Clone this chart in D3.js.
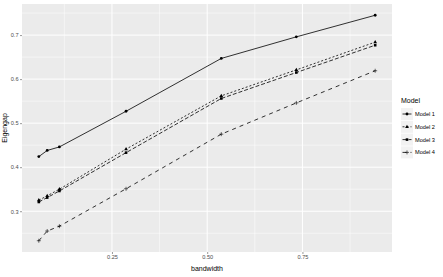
<!DOCTYPE html>
<html>
<head>
<meta charset="utf-8">
<script src="https://cdn.jsdelivr.net/npm/d3@7"></script>
<style>
  body { margin: 0; background: #fff; }
  text { font-family: "Liberation Sans", Arial, sans-serif; fill: #000; }
</style>
</head>
<body>
<div id="chart"></div>
<script>
// data
var bandwidth = [0.058, 0.080, 0.112, 0.287, 0.537, 0.734, 0.941];
var model1 = [0.424, 0.438, 0.446, 0.527, 0.647, 0.696, 0.745];
var model2 = [0.325, 0.335, 0.350, 0.441, 0.562, 0.621, 0.684];
var model3 = [0.321, 0.331, 0.346, 0.433, 0.556, 0.615, 0.677];
var model4 = [0.233, 0.255, 0.266, 0.351, 0.475, 0.546, 0.619];
var modelNames = ["Model 1", "Model 2", "Model 3", "Model 4"];
var xTicks = [0.25, 0.50, 0.75];
var yTicks = [0.3, 0.4, 0.5, 0.6, 0.7];

var series = [model1, model2, model3, model4].map(function(vals, i) {
  return { name: modelNames[i], values: vals.map(function(v, j) { return { x: bandwidth[j], y: v }; }) };
});

var svgWidth = 443, svgHeight = 277;
var margin = { top: 4, right: 51, bottom: 25, left: 22 };
var width = svgWidth - margin.left - margin.right;
var height = svgHeight - margin.top - margin.bottom;

var svg = d3.select("#chart").append("svg")
  .attr("width", svgWidth)
  .attr("height", svgHeight);

var g = svg.append("g")
  .attr("transform", `translate(${margin.left}, ${margin.top})`);

// ggplot style 5% expansion
function expand(ext) {
  var d = (ext[1] - ext[0]) * 0.05;
  return [ext[0] - d, ext[1] + d];
}
var allY = model1.concat(model2, model3, model4);
var x = d3.scaleLinear().domain(expand(d3.extent(bandwidth))).range([0, width]);
var y = d3.scaleLinear().domain(expand(d3.extent(allY))).range([height, 0]);

// panel
g.append("rect").attr("width", width).attr("height", height).attr("fill", "#EBEBEB");

var xMinor = [0.125, 0.375, 0.625, 0.875];
var yMinor = [0.25, 0.35, 0.45, 0.55, 0.65, 0.75];

g.selectAll(".xminor").data(xMinor).enter().append("line")
  .attr("x1", d => x(d)).attr("x2", d => x(d)).attr("y1", 0).attr("y2", height)
  .attr("stroke", "#fff").attr("stroke-width", 0.5);
g.selectAll(".yminor").data(yMinor).enter().append("line")
  .attr("y1", d => y(d)).attr("y2", d => y(d)).attr("x1", 0).attr("x2", width)
  .attr("stroke", "#fff").attr("stroke-width", 0.5);
g.selectAll(".xmajor").data(xTicks).enter().append("line")
  .attr("x1", d => x(d)).attr("x2", d => x(d)).attr("y1", 0).attr("y2", height)
  .attr("stroke", "#fff").attr("stroke-width", 1);
g.selectAll(".ymajor").data(yTicks).enter().append("line")
  .attr("y1", d => y(d)).attr("y2", d => y(d)).attr("x1", 0).attr("x2", width)
  .attr("stroke", "#fff").attr("stroke-width", 1);

// axes
var xAxis = g.append("g").attr("transform", `translate(0, ${height})`)
  .call(d3.axisBottom(x).tickValues(xTicks).tickFormat(d3.format(".2f")).tickSize(2).tickPadding(1.5));
var yAxis = g.append("g")
  .call(d3.axisLeft(y).tickValues(yTicks).tickFormat(d3.format(".1f")).tickSize(2).tickPadding(1.5));
[xAxis, yAxis].forEach(function(a) {
  a.select(".domain").remove();
  a.selectAll("line").attr("stroke", "#333").attr("stroke-width", 0.5);
  a.selectAll("text").style("fill", "#4D4D4D").attr("font-size", "5.6px").attr("font-family", "Liberation Sans, Arial, sans-serif");
});

// axis titles
g.append("text")
  .attr("x", width / 2).attr("y", height + 19)
  .attr("text-anchor", "middle").attr("font-size", "7px")
  .text("bandwidth");
g.append("text")
  .attr("transform", "rotate(-90)")
  .attr("x", -height / 2).attr("y", -15)
  .attr("text-anchor", "middle").attr("font-size", "7px")
  .text("Eigengap");

var dashes = ["none", "2,2", "4,2", "4,4"];
var line = d3.line().x(d => x(d.x)).y(d => y(d.y));

function drawShape(sel, i) {
  if (i === 0) {
    sel.append("circle").attr("r", 1.4).attr("fill", "#000");
  } else if (i === 1) {
    sel.append("path").attr("d", d3.symbol(d3.symbolTriangle, 6)).attr("fill", "#000");
  } else if (i === 2) {
    sel.append("rect").attr("x", -1.3).attr("y", -1.3).attr("width", 2.6).attr("height", 2.6).attr("fill", "#000");
  } else {
    sel.append("path").attr("d", "M-2,0H2M0,-2V2").attr("stroke", "#000").attr("stroke-width", 0.6).attr("fill", "none");
  }
}

series.forEach(function(s, i) {
  g.append("path")
    .datum(s.values)
    .attr("d", line)
    .attr("fill", "none")
    .attr("stroke", "#000")
    .attr("stroke-width", 0.8)
    .attr("stroke-dasharray", dashes[i]);
  g.selectAll(".pt" + i).data(s.values).enter().append("g")
    .attr("transform", d => `translate(${x(d.x)}, ${y(d.y)})`)
    .each(function() { drawShape(d3.select(this), i); });
});

// legend
var legend = svg.append("g").attr("transform", "translate(401, 96)");
legend.append("text").attr("x", 0).attr("y", 6.5).attr("font-size", "7px").text("Model");
modelNames.forEach(function(name, i) {
  var row = legend.append("g").attr("transform", `translate(0, ${12 + i * 12.8})`);
  row.append("rect").attr("x", 0).attr("y", 0).attr("width", 12).attr("height", 12).attr("fill", "#F2F2F2");
  row.append("line").attr("x1", 1.5).attr("x2", 10.5).attr("y1", 6).attr("y2", 6)
    .attr("stroke", "#000").attr("stroke-width", 0.8).attr("stroke-dasharray", dashes[i]);
  var sh = row.append("g").attr("transform", "translate(6, 6)");
  drawShape(sh, i);
  row.append("text").attr("x", 14).attr("y", 8).attr("font-size", "5.6px").text(name);
});
</script>
</body>
</html>
